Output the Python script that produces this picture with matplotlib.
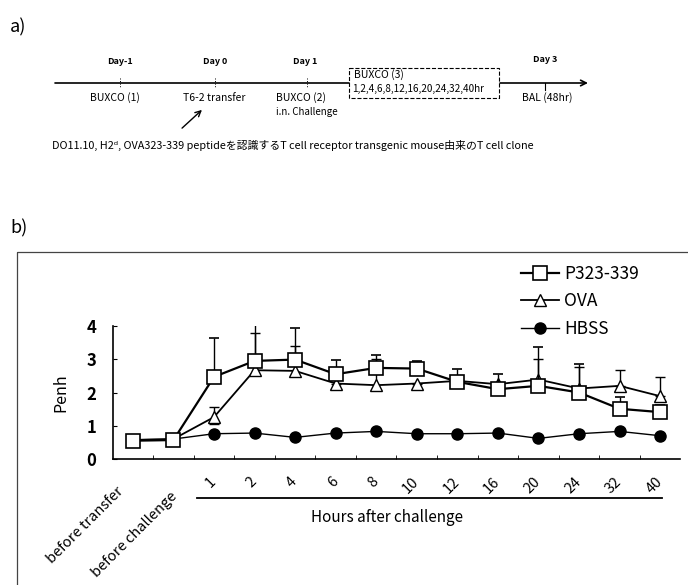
import matplotlib
matplotlib.use("Agg")
import matplotlib.pyplot as plt
from matplotlib.patches import Rectangle
from matplotlib.transforms import ScaledTranslation

plt.rcParams['font.family'] = ['Noto Sans CJK JP', 'DejaVu Sans']

# data (Penh)
categories = ["before transfer", "before challenge",
              "1", "2", "4", "6", "8", "10", "12", "16", "20", "24", "32", "40"]
p323_mean = [0.55, 0.57, 2.47, 2.95, 2.99, 2.55, 2.74, 2.72, 2.32, 2.10, 2.20, 2.00, 1.51, 1.41]
p323_err = [0.0, 0.0, 1.18, 1.10, 0.94, 0.42, 0.38, 0.23, 0.40, 0.47, 1.16, 0.87, 0.35, 0.22]
ova_mean = [0.57, 0.60, 1.26, 2.67, 2.65, 2.27, 2.22, 2.27, 2.35, 2.25, 2.39, 2.12, 2.20, 1.89]
ova_err_up = [0.0, 0.0, 0.30, 1.13, 0.75, 0.0, 0.80, 0.0, 0.0, 0.0, 0.61, 0.65, 0.47, 0.58]
ova_err_lo = [0.0, 0.0, 0.20, 0.12, 0.12, 0.17, 0.15, 0.17, 0.10, 0.0, 0.0, 0.0, 0.0, 0.0]
hbss_mean = [0.58, 0.60, 0.76, 0.78, 0.65, 0.78, 0.83, 0.76, 0.76, 0.78, 0.62, 0.76, 0.83, 0.70]
zeros = [0.0] * len(categories)

fig = plt.figure(figsize=(6.88, 5.85), dpi=100)

# overlay in pixel coordinates for the diagram part
ov = fig.add_axes([0, 0, 1, 1])
ov.set_xlim(0, 688)
ov.set_ylim(585, 0)
ov.axis('off')

# ---- a) timeline ----
ov.text(10, 27, "a)", fontsize=13, va='center', ha='left')
ov.annotate("", xy=(588, 83), xytext=(55, 83),
            arrowprops=dict(arrowstyle='->', lw=1.2, color='black', shrinkA=0, shrinkB=0))
for xt in [120, 215, 307]:
    ov.plot([xt, xt], [78, 88], color='black', lw=0.7, ls=':')
ov.plot([545, 545], [83, 90], color='black', lw=0.8)
ov.add_patch(Rectangle((349, 68), 150, 30, facecolor='white', edgecolor='black',
                       lw=0.8, ls='--', zorder=3))
small = dict(fontsize=6.5, fontweight='bold', va='center')
ov.text(120, 62, "Day-1", ha='center', **small)
ov.text(215, 62, "Day 0", ha='center', **small)
ov.text(305, 62, "Day 1", ha='center', **small)
ov.text(545, 60, "Day 3", ha='center', **small)
lab = dict(fontsize=7.5, va='center')
ov.text(115, 98, "BUXCO (1)", ha='center', **lab)
ov.text(214, 98, "T6-2 transfer", ha='center', **lab)
ov.text(276, 98, "BUXCO (2)", ha='left', **lab)
ov.text(276, 112, "i.n. Challenge", ha='left', fontsize=7, va='center')
ov.text(354, 75, "BUXCO (3)", ha='left', zorder=4, **lab)
ov.text(352, 89, "1,2,4,6,8,12,16,20,24,32,40hr", ha='left', zorder=4, fontsize=7.2, va='center')
ov.text(547, 98, "BAL (48hr)", ha='center', **lab)
ov.annotate("", xy=(204, 108), xytext=(180, 130),
            arrowprops=dict(arrowstyle='->', lw=1.0, color='black'))
ov.text(52, 145, "DO11.10, H2ᵈ, OVA323-339 peptideを認識するT cell receptor transgenic mouse由来のT cell clone",
        ha='left', va='center', fontsize=7.8)

# ---- b) frame ----
ov.text(10, 228, "b)", fontsize=13, va='center', ha='left')
ov.add_patch(Rectangle((17, 252), 720, 400, facecolor='none', edgecolor='#444444', lw=0.9))
ov.plot([197, 662], [498, 498], color='black', lw=1.3)
ov.text(387, 518, "Hours after challenge", ha='center', va='center', fontsize=11)

# ---- chart ----
ax = fig.add_axes([113 / 688, 1 - 459 / 585, 567 / 688, 133 / 585])
ax.patch.set_alpha(0)
x = list(range(len(categories)))

ax.errorbar(x, hbss_mean, color='black', marker='o', markersize=8, lw=1.0,
            mfc='black', mec='black', label='HBSS', zorder=3)
ax.errorbar(x, ova_mean, yerr=[ova_err_lo, ova_err_up], color='black', marker='^',
            markersize=9, lw=1.3, mfc='white', mec='black', mew=1.0,
            capsize=3.5, elinewidth=1.0, label='OVA', zorder=4)
ax.errorbar(x, p323_mean, yerr=[zeros, p323_err], color='black', marker='s',
            markersize=10, lw=1.6, mfc='white', mec='black', mew=1.2,
            capsize=3.5, elinewidth=1.0, label='P323-339', zorder=5)

ax.set_xlim(-0.49, 13.49)
ax.set_ylim(0, 4)
for side in ['top', 'right']:
    ax.spines[side].set_visible(False)
ax.spines['left'].set_linewidth(1.2)
ax.spines['bottom'].set_linewidth(1.2)
ax.set_yticks([0, 1, 2, 3, 4])
ax.tick_params(axis='y', direction='in', length=3, pad=12, labelsize=12)
ax.set_xticks(x)
ax.set_xticklabels(categories, rotation=45, ha='right', va='center', rotation_mode='anchor')
ax.tick_params(axis='x', length=0, pad=15, labelsize=10.5)
ax.set_xticks([i + 0.5 for i in x[:-1]], minor=True)
ax.tick_params(axis='x', which='minor', direction='in', length=3)
for t in ax.get_yticklabels():
    t.set_fontweight('bold')

# the two baseline labels hang a little lower in the original
shifts = {0: (-12, -9), 1: (1, -14)}
for i, t in enumerate(ax.get_xticklabels()):
    if i in shifts:
        dx, dy = shifts[i]
        t.set_transform(t.get_transform() + ScaledTranslation(dx / 100, dy / 100, fig.dpi_scale_trans))

ax.set_ylabel("Penh", fontsize=11.5, labelpad=12)

# legend shows only marker + line (no error bars)
handles, labels = ax.get_legend_handles_labels()
order = [2, 1, 0]
fig.legend([handles[i][0] for i in order], [labels[i] for i in order],
           loc='upper left', bbox_to_anchor=(512 / 688, 1 - 256 / 585),
           frameon=False, fontsize=12.5, handlelength=2.2, handletextpad=0.3,
           labelspacing=0.55, borderpad=0)

fig.savefig("out.png", dpi=100, facecolor='white')
